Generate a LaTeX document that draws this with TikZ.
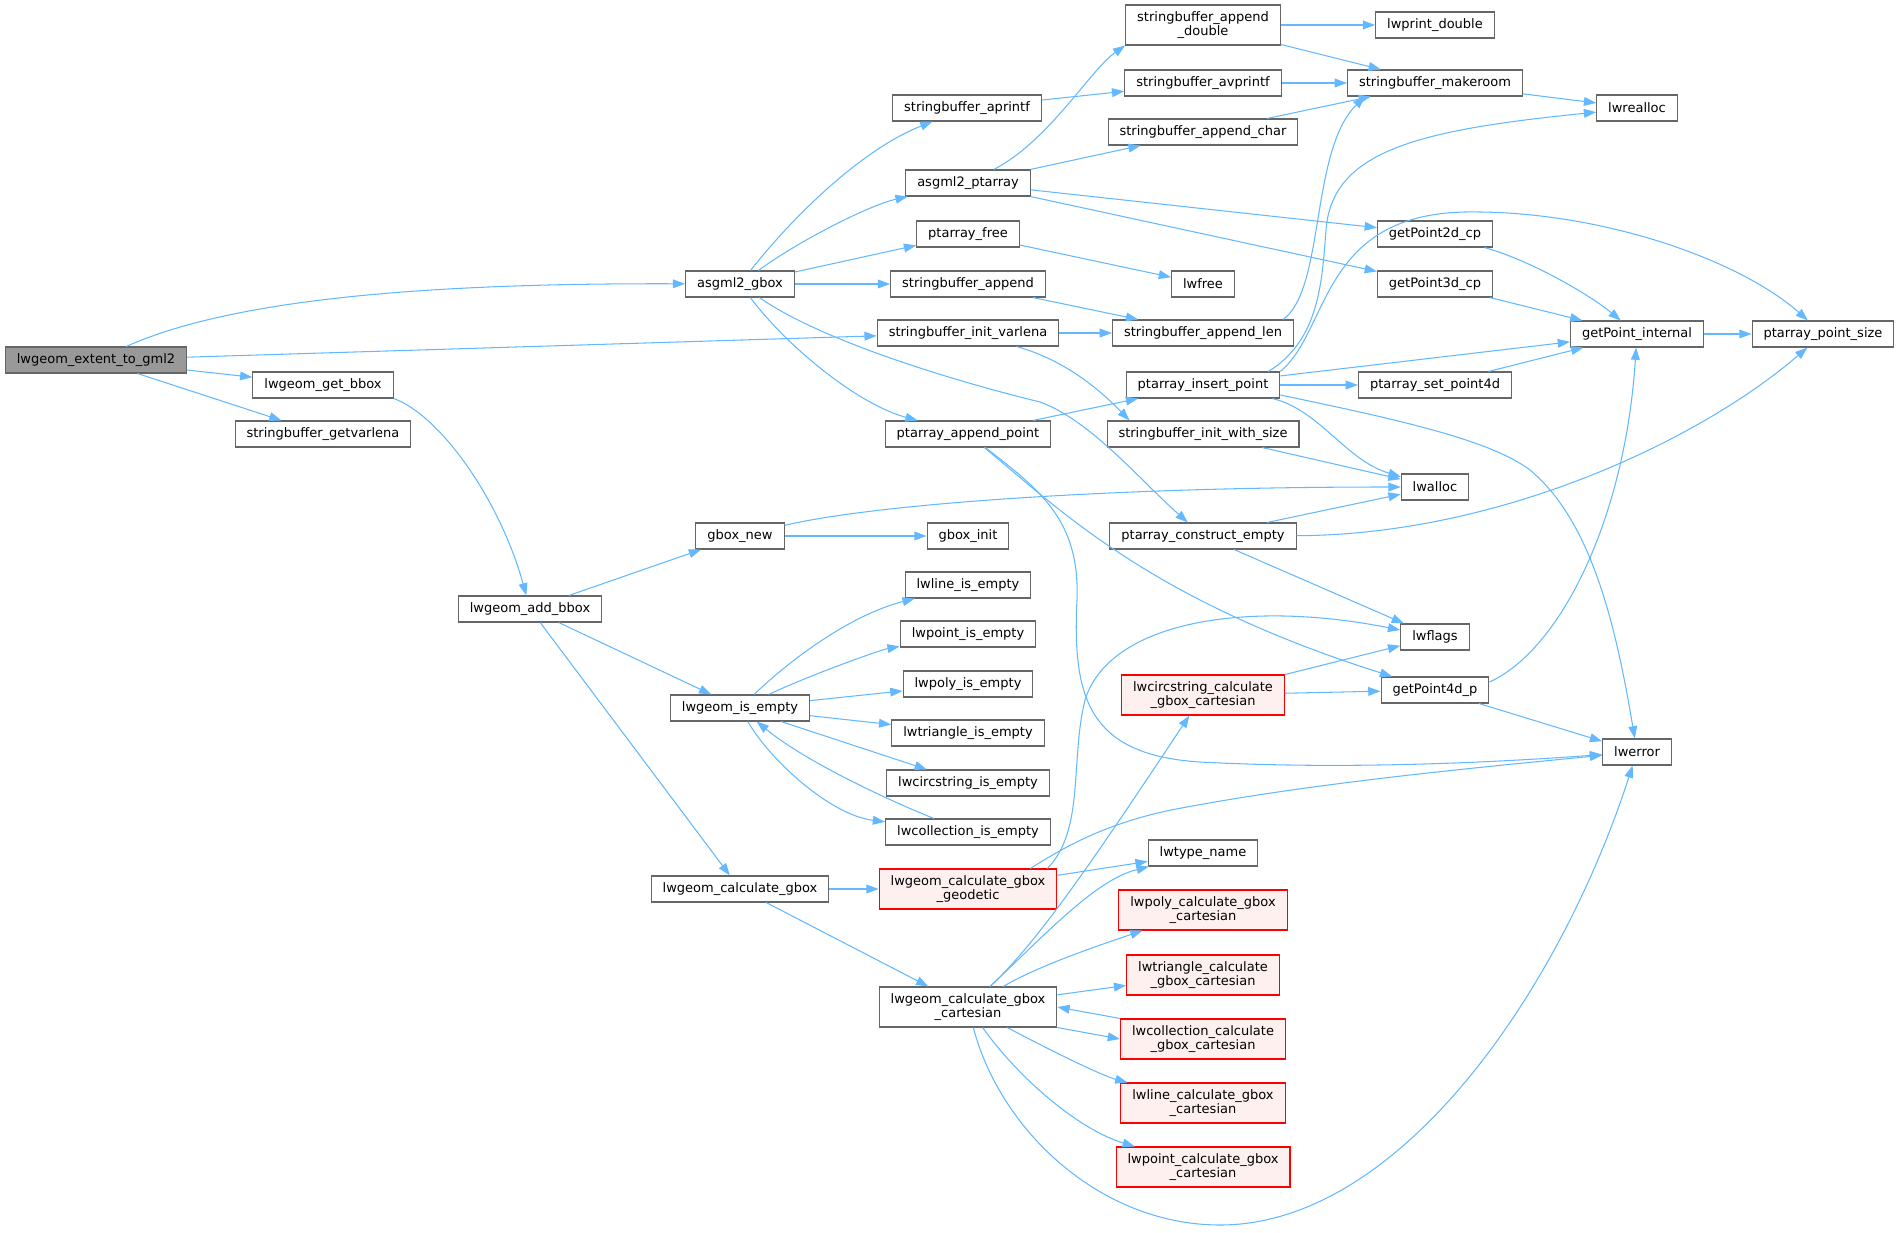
\documentclass[tikz,border=0pt]{standalone}
\usepackage{fontspec}
\setmainfont{DejaVu Sans}
\usetikzlibrary{arrows.meta}
\definecolor{edgeblue}{HTML}{63B8FF}
\definecolor{boxgray}{HTML}{666666}
\definecolor{rootfill}{HTML}{999999}
\definecolor{redfill}{HTML}{FFF0F0}
\begin{document}
\begin{tikzpicture}[x=0.02cm, y=-0.02cm,
  every node/.style={font=\fontsize{7.4}{8.4}\selectfont},
  fn/.style={draw=boxgray, line width=0.6pt, fill=white, inner xsep=0.23cm, inner ysep=1pt, minimum height=0.52cm},
  fnroot/.style={fn, fill=rootfill},
  fnred/.style={fn, draw=red, fill=redfill},
  twoline/.style={align=center, minimum height=0.8cm},
  call/.style={draw=edgeblue, line width=0.6pt, -{Triangle[length=7pt,width=5pt]}}]
  \useasboundingbox (0,0) rectangle (1900,1233);
  % functions
  \node[fnroot] (root) at (96,360) {lwgeom\_extent\_to\_gml2};
  \foreach \nm/\x/\y/\txt in {
    gbox/740/284/{asgml2\_gbox}, getbbox/323/385/{lwgeom\_get\_bbox},
    getvarlena/323/434/{stringbuffer\_getvarlena}, addbbox/530/609/{lwgeom\_add\_bbox},
    aprintf/967/108/{stringbuffer\_aprintf}, ptarr/968/183/{asgml2\_ptarray},
    ptfree/968/234/{ptarray\_free}, sbappend/968/284/{stringbuffer\_append},
    initvarlena/968/333/{stringbuffer\_init\_varlena}, appendpt/968/434/{ptarray\_append\_point},
    gboxnew/740/536/{gbox\_new}, gboxinit/968/536/{gbox\_init},
    lineempty/968/585/{lwline\_is\_empty}, pointempty/968/634/{lwpoint\_is\_empty},
    polyempty/968/684/{lwpoly\_is\_empty}, triempty/968/733/{lwtriangle\_is\_empty},
    circempty/968/783/{lwcircstring\_is\_empty}, collempty/968/832/{lwcollection\_is\_empty},
    isempty/740/708/{lwgeom\_is\_empty}, calcgbox/740/889/{lwgeom\_calculate\_gbox},
    avprintf/1203/83/{stringbuffer\_avprintf}, appchar/1203/132/{stringbuffer\_append\_char},
    lwfree/1203/284/{lwfree}, applen/1203/333/{stringbuffer\_append\_len},
    insertpt/1203/385/{ptarray\_insert\_point}, initsize/1203/434/{stringbuffer\_init\_with\_size},
    constrempty/1203/536/{ptarray\_construct\_empty}, typename/1203/853/{lwtype\_name},
    printdouble/1435/25/{lwprint\_double}, makeroom/1435/83/{stringbuffer\_makeroom},
    p2d/1435/234/{getPoint2d\_cp}, p3d/1435/284/{getPoint3d\_cp},
    setp4d/1435/385/{ptarray\_set\_point4d}, lwalloc/1435/487/{lwalloc},
    lwflags/1435/637/{lwflags}, p4d/1435/690/{getPoint4d\_p},
    lwrealloc/1637/108/{lwrealloc}, ptinternal/1637/334/{getPoint\_internal},
    lwerror/1637/752/{lwerror}, ptsize/1823/334/{ptarray\_point\_size}}
    \node[fn] (\nm) at (\x,\y) {\txt};
  \foreach \nm/\x/\y/\txt in {
    appdouble/1203/25/{stringbuffer\_append\\\_double},
    cartesian/968/1007/{lwgeom\_calculate\_gbox\\\_cartesian}}
    \node[fn, twoline] (\nm) at (\x,\y) {\txt};
  \foreach \nm/\x/\y/\txt in {
    geodetic/968/889/{lwgeom\_calculate\_gbox\\\_geodetic},
    circcalc/1203/695/{lwcircstring\_calculate\\\_gbox\_cartesian},
    polycalc/1203/910/{lwpoly\_calculate\_gbox\\\_cartesian},
    tricalc/1203/975/{lwtriangle\_calculate\\\_gbox\_cartesian},
    collcalc/1203/1039/{lwcollection\_calculate\\\_gbox\_cartesian},
    linecalc/1203/1103/{lwline\_calculate\_gbox\\\_cartesian},
    pointcalc/1203/1167/{lwpoint\_calculate\_gbox\\\_cartesian}}
    \node[fnred, twoline] (\nm) at (\x,\y) {\txt};
  % straight calls
  \foreach \a/\b in {root/initvarlena, root/getbbox, root/getvarlena,
    addbbox/gboxnew, addbbox/isempty, addbbox/calcgbox, gbox/ptfree, gbox/sbappend,
    initvarlena/applen, aprintf/avprintf, ptarr/appchar, ptarr/p2d, ptarr/p3d,
    ptfree/lwfree, sbappend/applen, appendpt/insertpt, calcgbox/geodetic,
    calcgbox/cartesian, geodetic/typename, cartesian/tricalc, isempty/polyempty,
    isempty/triempty, isempty/circempty, gboxnew/gboxinit, initsize/lwalloc,
    constrempty/lwalloc, constrempty/lwflags, insertpt/ptinternal, insertpt/setp4d,
    setp4d/ptinternal, p3d/ptinternal, ptinternal/ptsize, p4d/lwerror,
    makeroom/lwrealloc, appdouble/printdouble, appdouble/makeroom,
    avprintf/makeroom, appchar/makeroom, circcalc/lwflags, circcalc/p4d}
    \draw[call] (\a) -- (\b);
  \draw[call] (collcalc.north west) -- (cartesian.east);
  \draw[call] (cartesian.south east) -- (collcalc.west);
  % curved calls
  \draw[call] (root) .. controls (230,300) and (420,283) .. (gbox);
  \draw[call] (getbbox.south east) .. controls (440,415) and (500,500) .. (addbbox);
  \draw[call] (gbox) .. controls (790,220) and (860,150) .. (aprintf);
  \draw[call] (gbox) .. controls (800,240) and (870,205) .. (ptarr);
  \draw[call] (gbox) .. controls (790,350) and (860,405) .. (appendpt);
  \draw[call] (gbox) .. controls (820,340) and (950,380) .. (1040,402)
    .. controls (1090,420) and (1140,480) .. (constrempty);
  \draw[call] (initvarlena) .. controls (1065,360) and (1100,390) .. ([xshift=0.46cm]initsize.north west);
  \draw[call] (ptarr) .. controls (1050,140) and (1090,70) .. (appdouble.south west);
  \draw[call] (appendpt) .. controls (1060,510) and (1150,600) .. (p4d);
  \draw[call] (appendpt) .. controls (1040,490) and (1080,520) .. (1077,600)
    .. controls (1072,700) and (1090,755) .. (1200,762)
    .. controls (1350,770) and (1500,762) .. (lwerror);
  \draw[call] (gboxnew) .. controls (870,505) and (1100,487) .. (lwalloc);
  \draw[call] (isempty) .. controls (790,660) and (850,615) .. (lineempty);
  \draw[call] (isempty) .. controls (810,675) and (880,650) .. (pointempty);
  \draw[call] (isempty) .. controls (770,760) and (830,815) .. (collempty);
  \draw[call] (collempty) .. controls (900,805) and (810,765) .. (isempty);
  \draw[call] ([xshift=-0.2cm]geodetic.north east) .. controls (1085,830) and (1070,760) .. (1085,700)
    .. controls (1110,620) and (1250,600) .. (lwflags);
  \draw[call] ([xshift=-0.54cm]geodetic.north east) .. controls (1060,850) and (1100,825) .. (1171,810)
    .. controls (1300,785) and (1450,770) .. (lwerror);
  \draw[call] (cartesian) .. controls (1040,940) and (1100,850) .. (circcalc);
  \draw[call] (cartesian) .. controls (1045,935) and (1095,880) .. (typename);
  \draw[call] (cartesian) .. controls (1040,965) and (1100,945) .. (polycalc);
  \draw[call] (cartesian) .. controls (1050,1050) and (1100,1075) .. (linecalc);
  \draw[call] (cartesian) .. controls (1020,1080) and (1080,1130) .. (pointcalc);
  \draw[call] (cartesian) .. controls (1000,1130) and (1100,1225) .. (1220,1225)
    .. controls (1400,1225) and (1560,990) .. (lwerror);
  \draw[call] ([xshift=-0.22cm]applen.north east) .. controls (1325,290) and (1310,150) .. ([xshift=0.36cm]makeroom.south west);
  \draw[call] ([xshift=-0.24cm]insertpt.north east) .. controls (1320,340) and (1322,280) .. (1326,230)
    .. controls (1332,150) and (1420,130) .. (lwrealloc);
  \draw[call] (insertpt.north east) .. controls (1330,330) and (1320,215) .. (1465,212)
    .. controls (1600,210) and (1740,260) .. (ptsize);
  \draw[call] ([xshift=-0.16cm]insertpt.south east) .. controls (1320,410) and (1345,460) .. (lwalloc);
  \draw[call] ([yshift=-0.2cm]insertpt.east) .. controls (1400,420) and (1490,440) .. (1530,470)
    .. controls (1590,520) and (1615,620) .. (lwerror);
  \draw[call] (p2d) .. controls (1530,260) and (1590,295) .. (ptinternal);
  \draw[call] ([yshift=0.16cm]p4d.east) .. controls (1560,650) and (1625,520) .. (ptinternal);
  \draw[call] (constrempty) .. controls (1500,535) and (1700,440) .. (ptsize);
\end{tikzpicture}
\end{document}
